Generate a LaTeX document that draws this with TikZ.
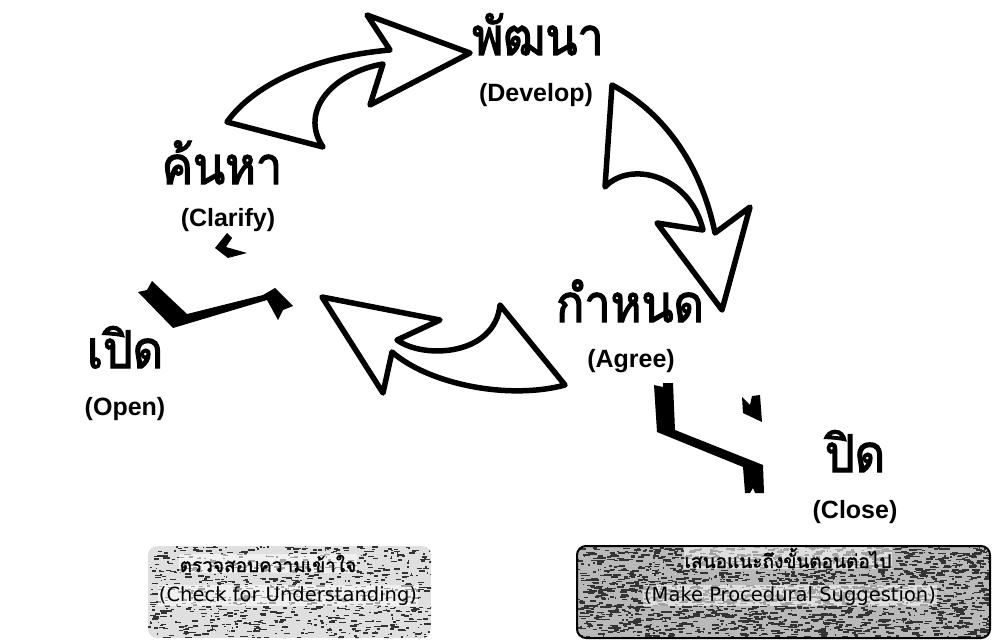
\documentclass[tikz,border=0pt]{standalone}
\usepackage{fontspec}
\setmainfont{Liberation Sans}
\newfontfamily\thaifont[Script=Thai,FakeBold=2.5,FakeStretch=0.9]{Loma}
\newfontfamily\thaiboxfont[Script=Thai,FakeBold=1.5]{Loma}
\newfontfamily\boxfont{DejaVu Sans}
\begin{document}
\begin{tikzpicture}[x=1pt,y=-1pt,
  bigarrow/.style={draw=black,fill=white,line width=5.5pt,line join=round},
  brokenbar/.style={fill=black},
  thaihead/.style={anchor=base,font=\thaifont\fontsize{52}{54}\selectfont},
  enghead/.style={anchor=base,font=\bfseries\fontsize{25}{28}\selectfont},
  boxthai/.style={anchor=base,font=\thaiboxfont\fontsize{19}{21}\selectfont},
  boxeng/.style={anchor=base,font=\boxfont\fontsize{19.5}{21}\selectfont},
  halo/.style={fill=white,fill opacity=0.55,text opacity=1,inner sep=1pt},
  speck/.style={fill=black!80}]
\useasboundingbox (0,0) rectangle (992,642);

% stage labels
\node[thaihead] (develop) at (538,55) {พัฒนา};
\node[enghead] (developE) at (536,101) {(Develop)};
\node[thaihead] (clarify) at (222,184) {ค้นหา};
\node[enghead] (clarifyE) at (228,226) {(Clarify)};
\node[thaihead] (agree) at (630,322) {กำหนด};
\node[enghead] (agreeE) at (631,367) {(Agree)};
\node[thaihead] (open) at (125,368) {เปิด};
\node[enghead] (openE) at (125,415) {(Open)};
\node[thaihead] (close) at (855,472) {ปิด};
\node[enghead] (closeE) at (855,518) {(Close)};

% hand drawn cycle arrows
\draw[bigarrow] (227,122) .. controls (248,92) and (300,58) .. (390,50)
  -- (367,15) -- (470,53) -- (370,105) -- (383,64)
  .. controls (335,72) and (298,110) .. (323,147) -- cycle;
\draw[bigarrow] (612,85) -- (605,187)
  .. controls (630,160) and (690,175) .. (703,230)
  -- (657,223) -- (722,310) -- (750,207) -- (715,233)
  .. controls (700,160) and (660,110) .. (612,85) -- cycle;
\draw[bigarrow] (322,297) -- (440,320) -- (397,340)
  .. controls (425,360) and (495,355) .. (500,305)
  -- (565,385) .. controls (510,400) and (430,385) .. (392,352)
  -- (383,393) -- cycle;

% broken step bars
\fill[brokenbar] (215,248) -- (227,233) -- (232,238) -- (226,247) -- (247,253) -- (228,258) -- cycle;
\fill[brokenbar] (138,292) -- (147,290) -- (152,281) -- (187,314) -- (263,295) -- (275,288)
  -- (293,306) -- (283,310) -- (278,320) -- (267,300) -- (173,328) -- cycle;
\fill[brokenbar] (742,397) -- (750,405) -- (752,396) -- (760,395) -- (762,422) -- (743,413) -- cycle;
\fill[brokenbar] (654,385) -- (663,387) -- (663,383) -- (673,383) -- (675,430) -- (763,465)
  -- (764,493) -- (755,493) -- (753,488) -- (750,493) -- (745,493) -- (743,467) -- (657,432) -- cycle;

% textured caption boxes
\pgfmathsetseed{11}
\begin{scope}
  \clip[rounded corners=9pt] (148,546) rectangle (431,638);
  \fill[gray!25] (148,546) rectangle (431,638);
  \foreach \i in {1,...,900}{
    \pgfmathsetmacro\px{148+rnd*283}
    \pgfmathsetmacro\py{546+rnd*92}
    \pgfmathsetmacro\pw{1+rnd*6}
    \fill[speck] (\px,\py) rectangle ++(\pw,1.4);
  }
\end{scope}
\begin{scope}
  \clip[rounded corners=9pt] (577,546) rectangle (990,638);
  \fill[gray!55] (577,546) rectangle (990,638);
  \foreach \i in {1,...,2200}{
    \pgfmathsetmacro\px{577+rnd*413}
    \pgfmathsetmacro\py{546+rnd*92}
    \pgfmathsetmacro\pw{1+rnd*7}
    \fill[speck] (\px,\py) rectangle ++(\pw,1.6);
  }
\end{scope}
\draw[line width=2pt,rounded corners=9pt] (577,546) rectangle (990,638);

\node[boxthai,halo] (checkT) at (268,572) {ตรวจสอบความเข้าใจ};
\node[boxeng,halo] (checkE) at (288,601) {(Check for Understanding)};
\node[boxthai,halo] (suggestT) at (788,568) {เสนอแนะถึงขั้นตอนต่อไป};
\node[boxeng,halo] (suggestE) at (790,601) {(Make Procedural Suggestion)};
\end{tikzpicture}
\end{document}
